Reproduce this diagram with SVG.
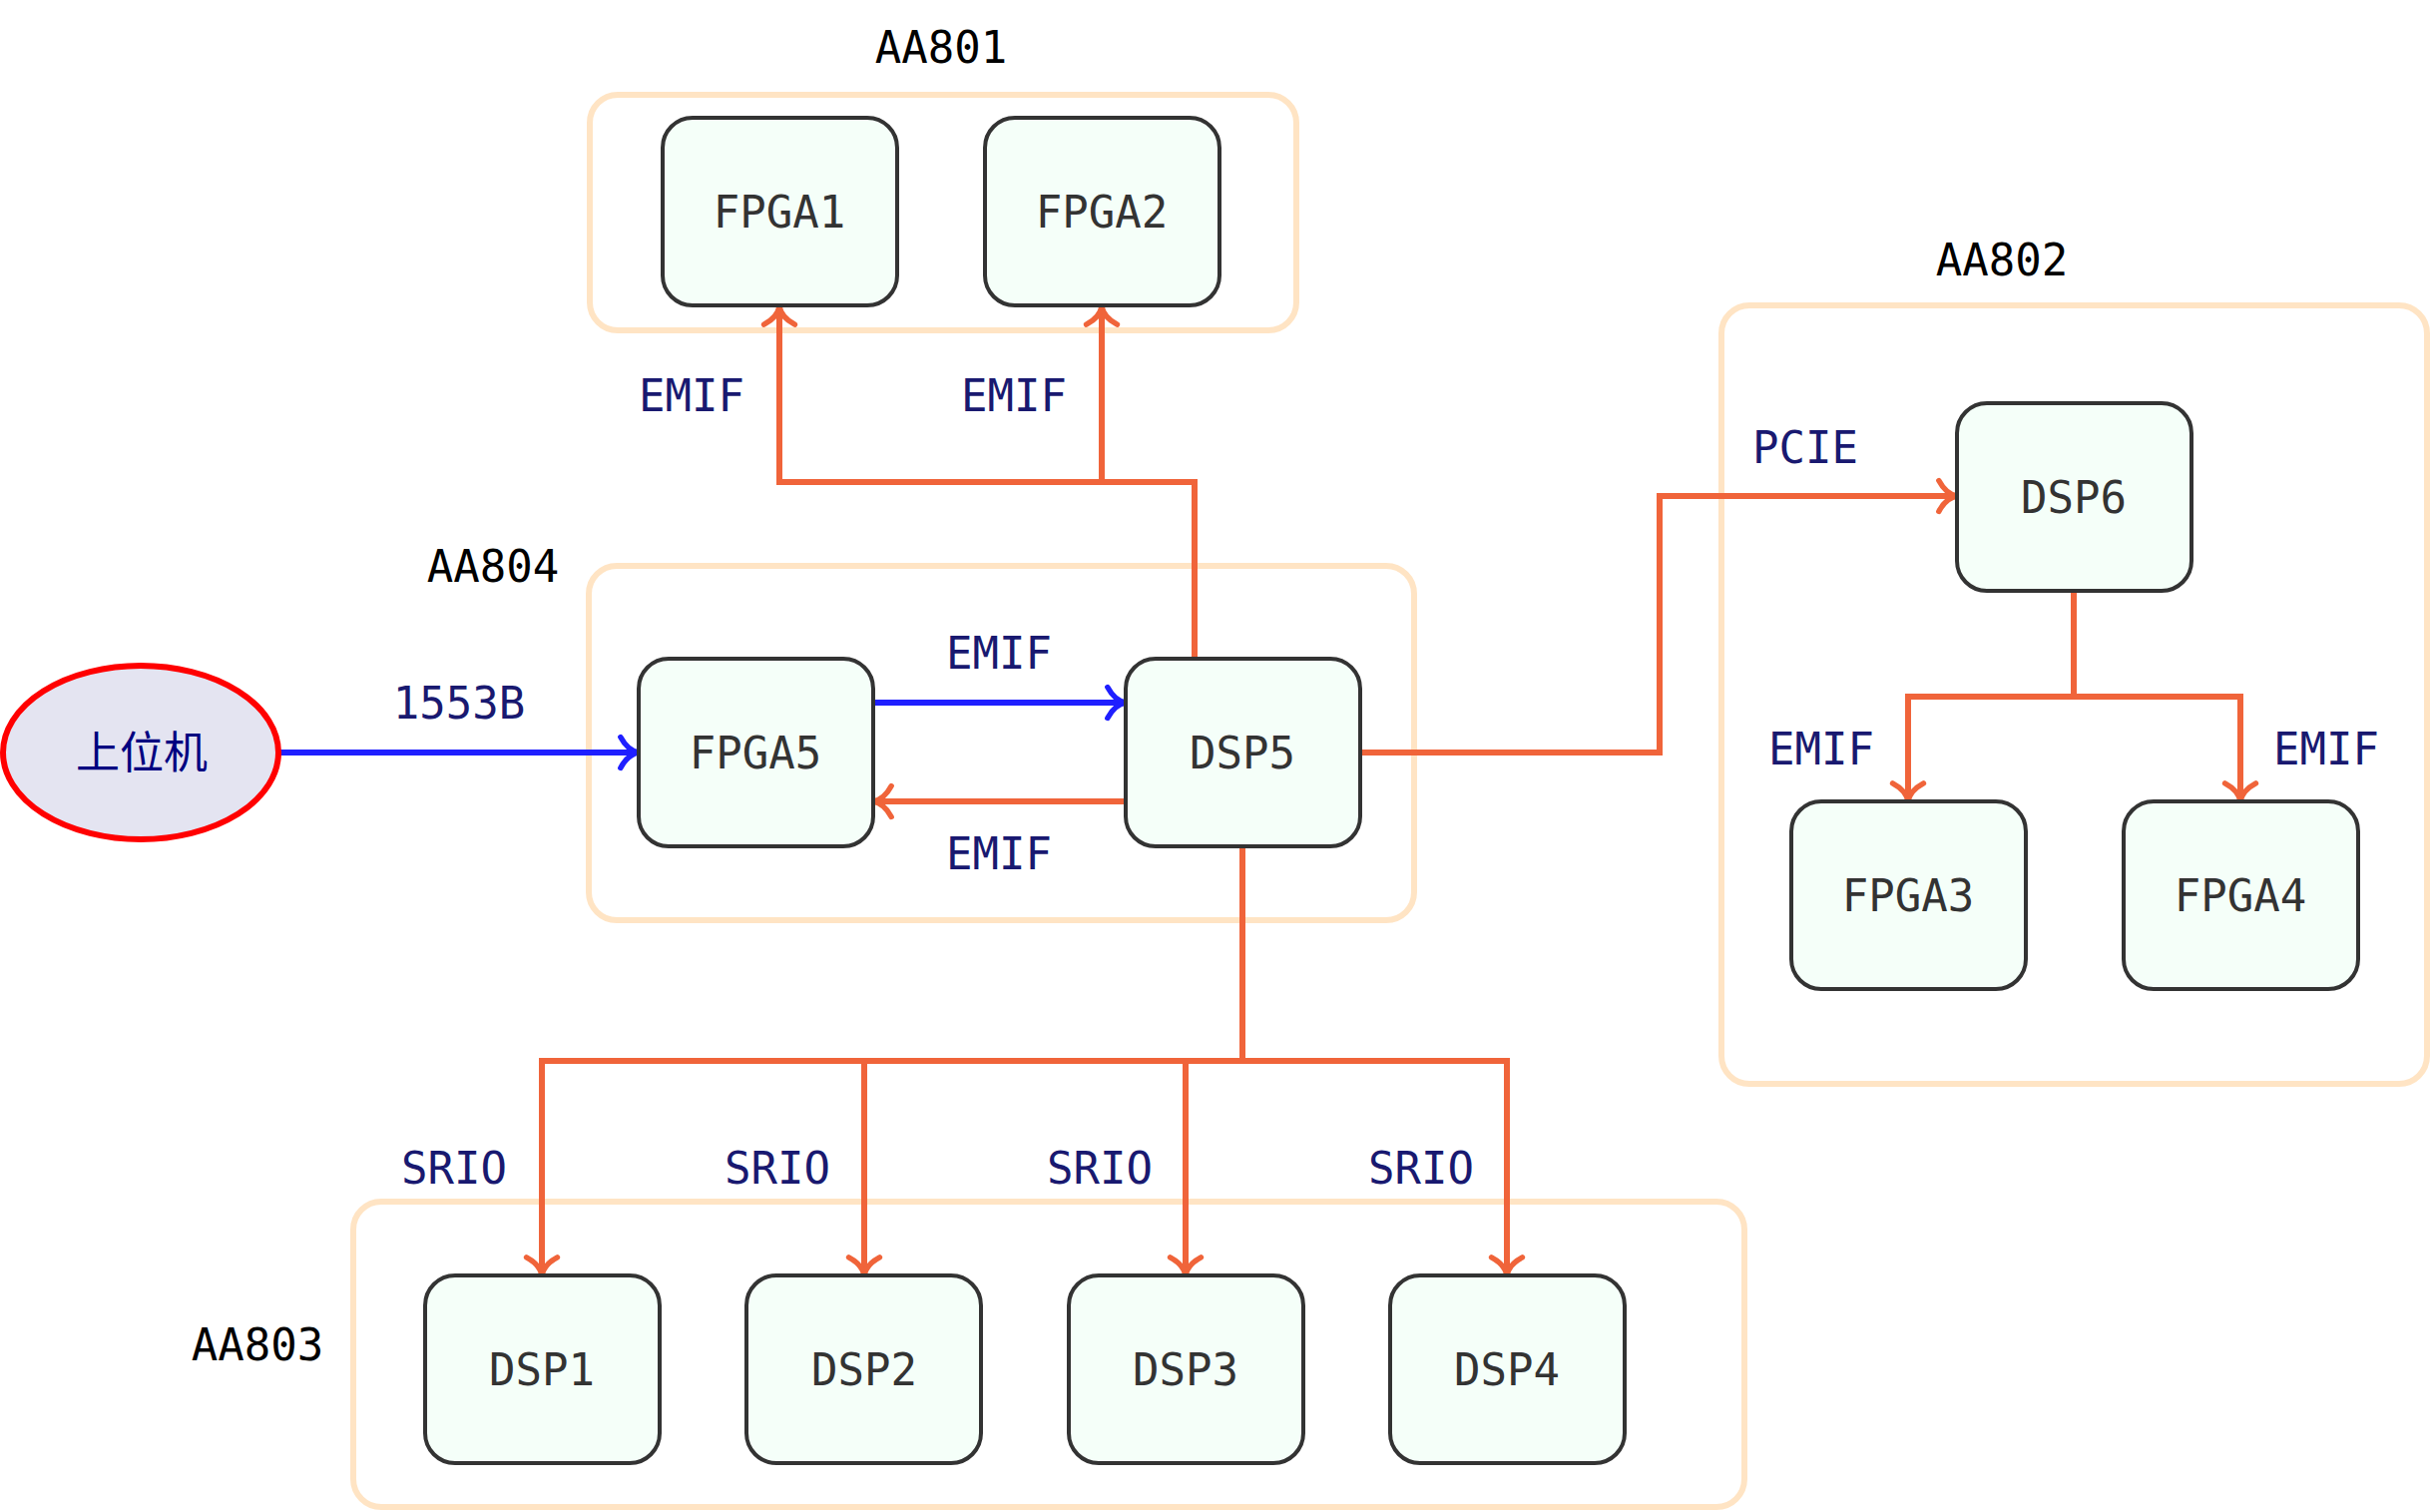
<svg xmlns="http://www.w3.org/2000/svg" width="2437" height="1515" viewBox="0 0 2437 1515">
<style>
.grp{fill:none;stroke:#ffe4c4;stroke-width:6}
.node rect{fill:#f5fff9;stroke:#333;stroke-width:4}
.node text{fill:#333;font-family:"DejaVu Sans Mono",monospace;font-size:44px;text-anchor:middle}
.title{fill:#000;font-family:"DejaVu Sans Mono",monospace;font-size:44px;text-anchor:middle}
.lbl{fill:#191970;font-family:"DejaVu Sans Mono",monospace;font-size:44px;text-anchor:middle}
.o{fill:none;stroke:#f0643a;stroke-width:6}
.b{fill:none;stroke:#1f1fff;stroke-width:6}
</style>
<defs>
<marker id="ao" markerUnits="userSpaceOnUse" orient="auto" refX="0" refY="0" markerWidth="40" markerHeight="40" viewBox="-25 -22 28 44" overflow="visible">
<path d="M-20,-17 Q-12,-2 0,0 Q-12,2 -20,17" fill="none" stroke="#f0643a" stroke-width="6" stroke-linecap="round" stroke-linejoin="round"/>
</marker>
<marker id="ab" markerUnits="userSpaceOnUse" orient="auto" refX="0" refY="0" markerWidth="40" markerHeight="40" viewBox="-25 -22 28 44" overflow="visible">
<path d="M-20,-17 Q-12,-2 0,0 Q-12,2 -20,17" fill="none" stroke="#1f1fff" stroke-width="6" stroke-linecap="round" stroke-linejoin="round"/>
</marker>
</defs>
<rect width="2437" height="1515" fill="#fff"/>
<g id="groups">
<g id="AA801"><rect class="grp" x="591" y="95" width="708" height="236" rx="28"/><text class="title" x="943" y="63">AA801</text></g>
<g id="AA804"><rect class="grp" x="590" y="567" width="827" height="355" rx="28"/><text class="title" x="494" y="583">AA804</text></g>
<g id="AA802"><rect class="grp" x="1725" y="306" width="707" height="780" rx="28"/><text class="title" x="2006" y="276">AA802</text></g>
<g id="AA803"><rect class="grp" x="354" y="1204" width="1394" height="306" rx="28"/><text class="title" x="258" y="1363">AA803</text></g>
</g>
<g id="connectors">
<path class="o" d="M1197,660 V483 H781 V307" marker-end="url(#ao)"/>
<path class="o" d="M1197,660 V483 H1104 V307" marker-end="url(#ao)"/>
<path class="b" d="M280,754 H640" marker-end="url(#ab)"/>
<path class="b" d="M875,704 H1128" marker-end="url(#ab)"/>
<path class="o" d="M1128,803 H875" marker-end="url(#ao)"/>
<path class="o" d="M1363,754 H1663 V497 H1961" marker-end="url(#ao)"/>
<path class="o" d="M2078,592 V698 H1912 V803" marker-end="url(#ao)"/>
<path class="o" d="M2078,592 V698 H2245 V803" marker-end="url(#ao)"/>
<path class="o" d="M1245,849 V1063 H543 V1278" marker-end="url(#ao)"/>
<path class="o" d="M1245,849 V1063 H866 V1278" marker-end="url(#ao)"/>
<path class="o" d="M1245,849 V1063 H1188 V1278" marker-end="url(#ao)"/>
<path class="o" d="M1245,849 V1063 H1510 V1278" marker-end="url(#ao)"/>
<text class="lbl" x="693" y="412">EMIF</text>
<text class="lbl" x="1016" y="412">EMIF</text>
<text class="lbl" x="460" y="720">1553B</text>
<text class="lbl" x="1001" y="670">EMIF</text>
<text class="lbl" x="1001" y="871">EMIF</text>
<text class="lbl" x="1809" y="464">PCIE</text>
<text class="lbl" x="1825" y="766">EMIF</text>
<text class="lbl" x="2331" y="766">EMIF</text>
<text class="lbl" x="455" y="1186">SRIO</text>
<text class="lbl" x="779" y="1186">SRIO</text>
<text class="lbl" x="1102" y="1186">SRIO</text>
<text class="lbl" x="1424" y="1186">SRIO</text>
</g>
<g id="host">
<ellipse cx="141" cy="754" rx="138" ry="87" fill="#e4e4f1" stroke="#ff0000" stroke-width="6"/>
<text x="142" y="770" fill="#000080" font-family="'Noto Sans CJK SC',sans-serif" font-size="44" text-anchor="middle">上位机</text>
</g>
<g id="FPGA1" class="node"><rect x="664" y="118" width="235" height="188" rx="30"/><text x="781" y="228">FPGA1</text></g>
<g id="FPGA2" class="node"><rect x="987" y="118" width="235" height="188" rx="30"/><text x="1104" y="228">FPGA2</text></g>
<g id="FPGA5" class="node"><rect x="640" y="660" width="235" height="188" rx="30"/><text x="757" y="770">FPGA5</text></g>
<g id="DSP5" class="node"><rect x="1128" y="660" width="235" height="188" rx="30"/><text x="1245" y="770">DSP5</text></g>
<g id="DSP6" class="node"><rect x="1961" y="404" width="235" height="188" rx="30"/><text x="2078" y="514">DSP6</text></g>
<g id="FPGA3" class="node"><rect x="1795" y="803" width="235" height="188" rx="30"/><text x="1912" y="913">FPGA3</text></g>
<g id="FPGA4" class="node"><rect x="2128" y="803" width="235" height="188" rx="30"/><text x="2245" y="913">FPGA4</text></g>
<g id="DSP1" class="node"><rect x="426" y="1278" width="235" height="188" rx="30"/><text x="543" y="1388">DSP1</text></g>
<g id="DSP2" class="node"><rect x="748" y="1278" width="235" height="188" rx="30"/><text x="866" y="1388">DSP2</text></g>
<g id="DSP3" class="node"><rect x="1071" y="1278" width="235" height="188" rx="30"/><text x="1188" y="1388">DSP3</text></g>
<g id="DSP4" class="node"><rect x="1393" y="1278" width="235" height="188" rx="30"/><text x="1510" y="1388">DSP4</text></g>
</svg>
